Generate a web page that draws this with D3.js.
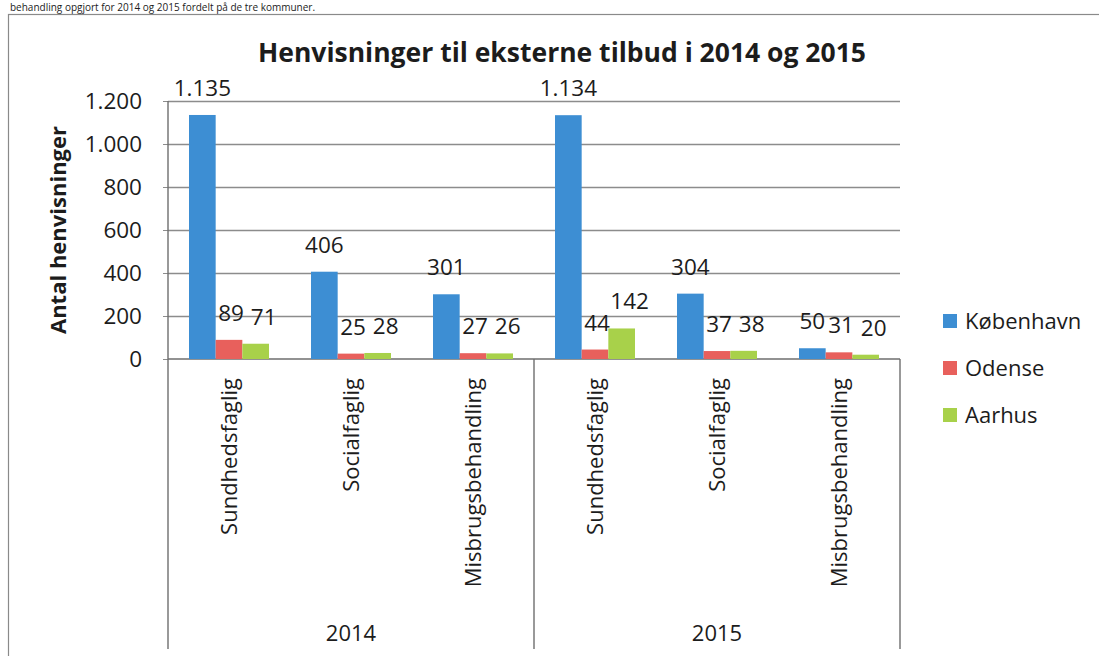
<!DOCTYPE html>
<html>
<head>
<meta charset="utf-8">
<script src="https://cdn.jsdelivr.net/npm/d3@7"></script>
<style>
  body { margin: 0; background: #fff; }
  svg { display: block; font-family: "Open Sans", "Noto Sans", sans-serif; }
</style>
</head>
<body>
<div id="chart"></div>
<script>
// data
const years = ['2014', '2015'];
const categories = ['Sundhedsfaglig', 'Socialfaglig', 'Misbrugsbehandling'];
const seriesNames = ['København', 'Odense', 'Aarhus'];
const koebenhavn = [1135, 406, 301, 1134, 304, 50];
const odense = [89, 25, 27, 44, 37, 31];
const aarhus = [71, 28, 26, 142, 38, 20];
const yTicks = [0, 200, 400, 600, 800, 1000, 1200];
const colors = ['#3d8ed3', '#e8605c', '#a8d14a'];

const W = 1099, H = 656;
const plot = { left: 168, right: 900, top: 101, bottom: 359 };
const textColor = '#1c1c1c';
// Excel nudged the labels of the later series a little to the right
const labelShift = [0, 2, 8];

const da = d3.formatLocale({ decimal: ',', thousands: '.', grouping: [3], currency: ['', ' kr'] });
const fmt = da.format(',d');

// one row per (year, category)
const rows = [];
years.forEach((yr, yi) => {
  categories.forEach((cat, ci) => {
    const i = yi * categories.length + ci;
    rows.push({ key: yr + '|' + cat, year: yr, cat: cat,
                values: [koebenhavn[i], odense[i], aarhus[i]] });
  });
});

const svg = d3.select('#chart').append('svg')
  .attr('width', W)
  .attr('height', H);

// page text above the chart (cut off in the scan)
svg.append('text')
  .attr('x', 10)
  .attr('y', 11)
  .style('font-size', '10px')
  .style('fill', textColor)
  .text('behandling opgjort for 2014 og 2015 fordelt på de tre kommuner.');

// chart frame
svg.append('rect')
  .attr('x', 8.5)
  .attr('y', 14.5)
  .attr('width', 1200)
  .attr('height', 700)
  .style('fill', 'none')
  .style('stroke', '#8a8a8a')
  .style('stroke-width', 1.2);

const x0 = d3.scaleBand()
  .domain(rows.map(d => d.key))
  .range([plot.left, plot.right]);

const x1 = d3.scaleBand()
  .domain(seriesNames)
  .range([21, x0.bandwidth() - 21]);

const y = d3.scaleLinear()
  .domain([0, 1200])
  .range([plot.bottom, plot.top]);

// gridlines
svg.append('g')
  .selectAll('line')
  .data(yTicks.filter(t => t > 0))
  .enter()
  .append('line')
    .attr('x1', plot.left)
    .attr('x2', plot.right)
    .attr('y1', d => y(d) + 0.5)
    .attr('y2', d => y(d) + 0.5)
    .style('stroke', '#8c8c8c')
    .style('stroke-width', 1.3);

// y axis
const yAxis = svg.append('g')
  .attr('transform', 'translate(' + plot.left + ',0)')
  .call(d3.axisLeft(y).tickValues(yTicks).tickFormat(fmt).tickSize(5).tickPadding(21));
yAxis.select('.domain').remove();
yAxis.selectAll('line').style('stroke', '#8c8c8c');
yAxis.selectAll('text')
  .style('font-family', '"Open Sans", sans-serif')
  .style('font-size', '22.5px')
  .style('fill', textColor);

// axis lines: left spine down through the category area, baseline, group separators
const axisG = svg.append('g').style('stroke', '#6e6e6e').style('stroke-width', 1.4);
axisG.append('line')
  .attr('x1', plot.left).attr('x2', plot.left)
  .attr('y1', plot.top).attr('y2', 649);
axisG.append('line')
  .attr('x1', plot.left).attr('x2', plot.right)
  .attr('y1', plot.bottom).attr('y2', plot.bottom);
const yearEdges = [rows[categories.length].key];
axisG.selectAll('.sep')
  .data(yearEdges)
  .enter()
  .append('line')
    .attr('x1', d => x0(d)).attr('x2', d => x0(d))
    .attr('y1', plot.bottom).attr('y2', 649);
axisG.append('line')
  .attr('x1', plot.right).attr('x2', plot.right)
  .attr('y1', plot.bottom).attr('y2', 649);

// bars
const groups = svg.append('g')
  .selectAll('g')
  .data(rows)
  .enter()
  .append('g')
    .attr('transform', d => 'translate(' + x0(d.key) + ',0)');

const cells = d => d.values.map((v, i) => ({ name: seriesNames[i], value: v, idx: i }));

groups.selectAll('rect')
  .data(cells)
  .enter()
  .append('rect')
    .attr('x', d => x1(d.name))
    .attr('y', d => y(d.value))
    .attr('width', x1.bandwidth())
    .attr('height', d => y(0) - y(d.value))
    .style('fill', d => colors[d.idx]);

// value labels
groups.selectAll('text')
  .data(cells)
  .enter()
  .append('text')
    .attr('x', d => x1(d.name) + x1.bandwidth() / 2 + labelShift[d.idx])
    .attr('y', d => y(d.value) - 19)
    .attr('text-anchor', 'middle')
    .style('font-size', '22.5px')
    .style('fill', textColor)
    .text(d => fmt(d.value));

// category labels (rotated)
svg.append('g')
  .selectAll('text')
  .data(rows)
  .enter()
  .append('text')
    .attr('transform', d => 'translate(' + (x0(d.key) + x0.bandwidth() / 2) + ',378) rotate(-90)')
    .attr('text-anchor', 'end')
    .attr('dy', '0.36em')
    .style('font-size', '22px')
    .style('fill', textColor)
    .text(d => d.cat);

// year labels
svg.append('g')
  .selectAll('text')
  .data(years)
  .enter()
  .append('text')
    .attr('x', (d, i) => {
      const first = x0(rows[i * categories.length].key);
      const last = x0(rows[i * categories.length + categories.length - 1].key) + x0.bandwidth();
      return (first + last) / 2;
    })
    .attr('y', 633)
    .attr('dy', '0.35em')
    .attr('text-anchor', 'middle')
    .style('font-size', '22px')
    .style('fill', textColor)
    .text(d => d);

// title
svg.append('text')
  .attr('x', 562)
  .attr('y', 62)
  .attr('text-anchor', 'middle')
  .style('font-size', '26.5px')
  .style('font-weight', 'bold')
  .style('fill', textColor)
  .text('Henvisninger til eksterne tilbud i 2014 og 2015');

// y axis title
svg.append('text')
  .attr('transform', 'translate(58,230) rotate(-90)')
  .attr('text-anchor', 'middle')
  .attr('dy', '0.35em')
  .style('font-size', '22px')
  .style('font-weight', 'bold')
  .style('fill', textColor)
  .text('Antal henvisninger');

// legend
const legend = svg.append('g')
  .attr('transform', 'translate(943,314)');
const legendItems = legend.selectAll('.legend-item')
  .data(seriesNames)
  .enter()
  .append('g')
    .attr('class', 'legend-item')
    .attr('transform', (d, i) => 'translate(0,' + (i * 47) + ')');
legendItems.append('rect')
  .attr('width', 14)
  .attr('height', 14)
  .style('fill', (d, i) => colors[i]);
legendItems.append('text')
  .attr('x', 22)
  .attr('y', 7)
  .attr('dy', '0.35em')
  .style('font-size', '22px')
  .style('fill', textColor)
  .text(d => d);
</script>
</body>
</html>
